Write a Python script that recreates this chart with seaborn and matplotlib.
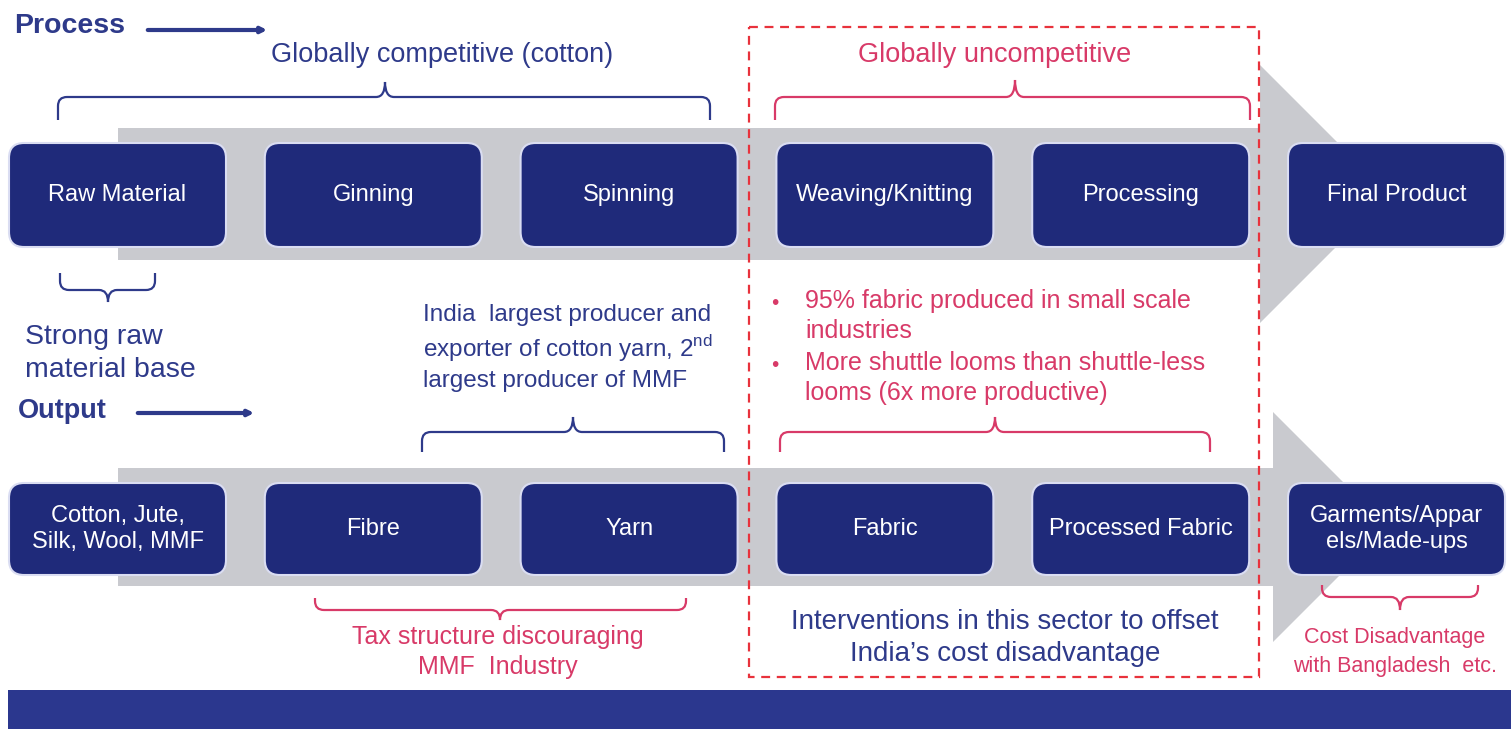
import matplotlib
matplotlib.use('Agg')
import matplotlib.pyplot as plt
import seaborn as sns
from matplotlib.patches import FancyBboxPatch, Polygon, Rectangle, PathPatch
from matplotlib.path import Path

# stage labels for the two flows
process_stages = ['Raw Material', 'Ginning', 'Spinning', 'Weaving/Knitting', 'Processing', 'Final Product']
output_stages = ['Cotton, Jute,\nSilk, Wool, MMF', 'Fibre', 'Yarn', 'Fabric', 'Processed Fabric',
                 'Garments/Appar\nels/Made-ups']

# annotations
top_left_note = 'Globally competitive (cotton)'
top_right_note = 'Globally uncompetitive'
raw_note = 'Strong raw\nmaterial base'
yarn_note = 'India  largest producer and\nexporter of cotton yarn, 2$^{\\mathrm{nd}}$\nlargest producer of MMF'
weaving_bullets = ['95% fabric produced in small scale\nindustries',
                   'More shuttle looms than shuttle-less\nlooms (6x more productive)']
tax_note = 'Tax structure discouraging\nMMF  Industry'
intervention_note = 'Interventions in this sector to offset\nIndia\u2019s cost disadvantage'
garment_note = 'Cost Disadvantage\nwith Bangladesh  etc.'

sns.set_theme(style='white')
plt.rcParams['font.family'] = ['Liberation Sans', 'DejaVu Sans']
plt.rcParams['mathtext.fontset'] = 'custom'
plt.rcParams['mathtext.rm'] = 'Liberation Sans'

NAVY = '#1F2A7A'
NAVY_TXT = '#2E3A8A'
PINK = '#D83A68'
RED = '#E8323C'
GREY = '#C9CACF'

fig = plt.figure(figsize=(15.11, 7.29), dpi=100)
ax = fig.add_axes([0, 0, 1, 1])
ax.set_xlim(0, 1511)
ax.set_ylim(729, 0)
ax.axis('off')


def flow_arrow(y0, y1, head_top, head_bot, x_start, x_head):
    yc = (head_top + head_bot) / 2
    tip = x_head + (head_bot - head_top) / 2
    pts = [(x_start, y0), (x_head, y0), (x_head, head_top), (tip, yc),
           (x_head, head_bot), (x_head, y1), (x_start, y1)]
    ax.add_patch(Polygon(pts, closed=True, fc=GREY, ec='none', zorder=1))


def brace(x0, x1, y_end, y_bar, y_tip, xc, color, r=9, lw=1.6):
    s = 1 if y_end > y_bar else -1
    verts = [(x0, y_end), (x0, y_bar + s * r), (x0, y_bar), (x0 + r, y_bar),
             (xc - r, y_bar), (xc, y_bar), (xc, y_tip),
             (xc, y_bar), (xc + r, y_bar),
             (x1 - r, y_bar), (x1, y_bar), (x1, y_bar + s * r), (x1, y_end)]
    codes = [Path.MOVETO, Path.LINETO, Path.CURVE3, Path.CURVE3,
             Path.LINETO, Path.CURVE3, Path.CURVE3,
             Path.CURVE3, Path.CURVE3,
             Path.LINETO, Path.CURVE3, Path.CURVE3, Path.LINETO]
    ax.add_patch(PathPatch(Path(verts, codes), fc='none', ec=color, lw=lw, zorder=4))


def stage_row(labels, y_top, height):
    for i, lab in enumerate(labels):
        x = 9 + i * 255.8
        ax.add_patch(FancyBboxPatch((x, y_top), 217, height,
                                    boxstyle='round,pad=0,rounding_size=15',
                                    fc=NAVY, ec='#DADDF2', lw=1.5, zorder=3))
        ax.text(x + 108.5, y_top + height / 2, lab, color='white', fontsize=17,
                ha='center', va='center', linespacing=1.2, zorder=5)


# grey flow arrows
flow_arrow(128, 260, 65, 323, 118, 1260)
flow_arrow(468, 586, 412, 642, 118, 1273)

# stage boxes
stage_row(process_stages, 143, 104)
stage_row(output_stages, 483, 92)

# headings with small arrows
ax.text(14, 26, 'Process', color=NAVY_TXT, fontsize=20.5, fontweight='bold', ha='left', va='center')
ax.annotate('', xy=(270, 30), xytext=(145, 30),
            arrowprops=dict(arrowstyle='-|>', color=NAVY_TXT, lw=3, mutation_scale=8))
ax.text(18, 411, 'Output', color=NAVY_TXT, fontsize=19.5, fontweight='bold', ha='left', va='center')
ax.annotate('', xy=(257, 413), xytext=(135, 413),
            arrowprops=dict(arrowstyle='-|>', color=NAVY_TXT, lw=3, mutation_scale=8))

# dashed highlight box
ax.add_patch(Rectangle((749, 27), 510, 650, fill=False, ec=RED, lw=1.6,
                       ls=(0, (4, 3)), zorder=6))

# top notes and braces
ax.text(442, 55, top_left_note, color=NAVY_TXT, fontsize=19.5, ha='center', va='center')
brace(58, 710, 120, 97, 82, 385, NAVY_TXT)
ax.text(995, 55, top_right_note, color=PINK, fontsize=19.5, ha='center', va='center')
brace(775, 1250, 120, 97, 80, 1015, PINK)

# raw material note
brace(60, 155, 273, 290, 302, 108, NAVY_TXT)
ax.text(25, 353, raw_note, color=NAVY_TXT, fontsize=20.5, ha='left', va='center', linespacing=1.35)

# yarn note
ax.text(423, 348, yarn_note, color=NAVY_TXT, fontsize=17.5, ha='left', va='center', linespacing=1.3)
brace(422, 724, 452, 432, 417, 573, NAVY_TXT)

# weaving bullets
for j, txt in enumerate(weaving_bullets):
    yb = 303 + j * 62
    ax.text(771, yb, '\u2022', color=PINK, fontsize=15, ha='left', va='center')
    ax.text(805, yb - 14, txt, color=PINK, fontsize=18, ha='left', va='top', linespacing=1.3)
brace(780, 1210, 452, 432, 417, 995, PINK)

# bottom notes
brace(315, 686, 598, 610, 620, 500, PINK)
ax.text(498, 652, tax_note, color=PINK, fontsize=18, ha='center', va='center', linespacing=1.3)
ax.text(1005, 638, intervention_note, color=NAVY_TXT, fontsize=20, ha='center', va='center',
        linespacing=1.3)
brace(1322, 1478, 585, 597, 610, 1400, PINK)
ax.text(1395, 652, garment_note, color=PINK, fontsize=15.5, ha='center', va='center', linespacing=1.5)

# bottom banner
ax.add_patch(Rectangle((8, 690), 1503, 39, fc='#2B378E', ec='none'))

fig.savefig('out.png', dpi=100)
